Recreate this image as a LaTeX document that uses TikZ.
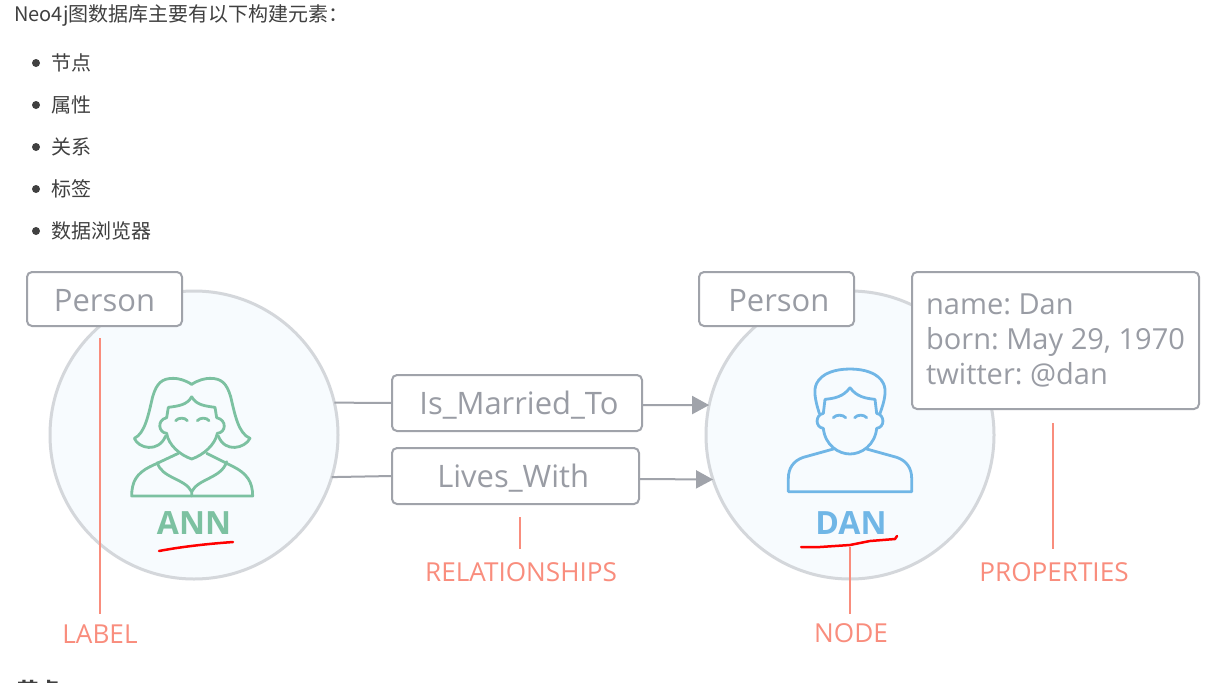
\documentclass[tikz,border=0pt]{standalone}
\usepackage{fontspec}
\setmainfont{Open Sans}
\newfontfamily\cjk{Noto Sans CJK SC}
\usetikzlibrary{arrows.meta}
\def\px{0.75pt}
\frenchspacing
\definecolor{boxgray}{HTML}{A0A3AA}
\definecolor{textgray}{HTML}{999CA4}
\definecolor{circlegray}{HTML}{D4D7DB}
\definecolor{circlefill}{HTML}{F7FBFE}
\definecolor{coral}{HTML}{F98D7D}
\definecolor{anngreen}{HTML}{7CC1A1}
\definecolor{danblue}{HTML}{70B6E6}
\definecolor{bodytext}{HTML}{404040}
\tikzset{
  person/.style = {circle, draw = circlegray, fill = circlefill, line width = 3*\px, minimum size = 288*\px, inner sep = 0pt, outer sep = 0pt},
  tagbox/.style = {draw = boxgray, fill = white, line width = 2*\px, rounded corners = 5*\px, inner sep = 0pt, outer sep = 0pt, text = textgray, text height = 24*\px, text depth = 0pt, font = \fontsize{23.2}{28}\selectfont},
  caption/.style = {text = coral, inner sep = 0pt, font = \fontsize{19.6}{24}\selectfont},
  pointer/.style = {draw = coral, line width = 1.5*\px},
  link/.style = {draw = boxgray, line width = 2*\px},
  listtext/.style = {text = bodytext, anchor = west, inner sep = 0pt, font = \cjk\fontsize{15}{18}\selectfont},
  dot/.style = {circle, fill = bodytext, inner sep = 0pt, minimum size = 8*\px},
  icon/.style = {line width = 2.8*\px, line join = round, line cap = round},
  scribble/.style = {draw = red, line width = 2.5*\px, line cap = round, line join = round},
}
\begin{document}
\begin{tikzpicture}[x = 0.75pt, y = -0.75pt]
    \useasboundingbox (0,0) rectangle (1231,682);
    \clip (0,0) rectangle (1231,682);
    \fill[white] (0,0) rectangle (1231,682);

    % Text above the diagram
    \node[listtext] (intro) at (14,16) {Neo4j图数据库主要有以下构建元素：};
    \node[dot] (dotA) at (36,63) {};
    \node[dot] (dotB) at (36,105) {};
    \node[dot] (dotC) at (36,147) {};
    \node[dot] (dotD) at (36,189) {};
    \node[dot] (dotE) at (36,231) {};
    \node[listtext] (itemA) at (51,63) {节点};
    \node[listtext] (itemB) at (51,105) {属性};
    \node[listtext] (itemC) at (51,147) {关系};
    \node[listtext] (itemD) at (51,189) {标签};
    \node[listtext] (itemE) at (51,231) {数据浏览器};
    \node[listtext, font = \cjk\bfseries\fontsize{16}{18}\selectfont] (nextheading) at (17,690) {节点};

    % Two people
    \node[person] (ann) at (194,435) {};
    \node[person] (dan) at (850,435) {};

    % Ann icon, traced in 3x units
    \begin{scope}[shift = {(100,350)}, x = 0.25pt, y = -0.25pt, draw = anngreen, icon]
        \draw (275,103) .. controls (255,90) and (235,85) .. (220,85)
            .. controls (185,85) and (170,100) .. (158,140)
            .. controls (145,195) and (135,250) .. (103,265)
            .. controls (115,295) and (175,310) .. (197,258);
        \draw (275,103) .. controls (295,90) and (315,85) .. (330,85)
            .. controls (365,85) and (380,100) .. (392,140)
            .. controls (405,195) and (415,250) .. (450,265)
            .. controls (435,295) and (375,310) .. (355,258);
        \draw (275,140) .. controls (262,165) and (235,168) .. (205,172)
            -- (200,203) .. controls (170,210) and (175,248) .. (200,250)
            .. controls (205,285) and (240,315) .. (275,327)
            .. controls (310,315) and (345,285) .. (352,250)
            .. controls (378,248) and (382,210) .. (350,203)
            -- (345,172) .. controls (315,168) and (288,165) .. (275,140);
        \draw (227,212) .. controls (235,202) and (255,202) .. (262,212);
        \draw (292,212) .. controls (300,202) and (320,202) .. (327,212);
        \draw (235,310) -- (150,350) .. controls (110,370) and (95,395) .. (95,438)
            -- (458,438) .. controls (458,395) and (440,370) .. (400,350) -- (320,310);
        \draw (172,338) .. controls (185,385) and (255,385) .. (275,425) -- (275,438);
        \draw (380,335) .. controls (365,385) and (295,385) .. (275,425);
    \end{scope}

    % Dan icon, traced in 3x units
    \begin{scope}[shift = {(760,350)}, x = 0.25pt, y = -0.25pt, draw = danblue, icon]
        \draw (178,190) .. controls (165,150) and (160,120) .. (170,100)
            .. controls (185,70) and (225,57) .. (270,57)
            .. controls (315,57) and (355,70) .. (370,100)
            .. controls (380,120) and (375,150) .. (360,190);
        \draw (270,113) .. controls (250,140) and (225,145) .. (195,148)
            -- (190,190) .. controls (165,195) and (165,232) .. (190,235)
            .. controls (195,285) and (235,312) .. (270,312)
            .. controls (305,312) and (345,285) .. (350,235)
            .. controls (375,232) and (375,195) .. (350,190)
            -- (345,148) .. controls (315,145) and (290,140) .. (270,113);
        \draw (220,203) .. controls (228,193) and (248,193) .. (257,203);
        \draw (284,203) .. controls (292,193) and (312,193) .. (320,203);
        \draw (220,297) -- (130,322) .. controls (100,332) and (85,355) .. (85,385)
            -- (85,425) -- (455,425) -- (455,385)
            .. controls (455,355) and (440,332) .. (410,322) -- (320,297);
    \end{scope}

    % Names with the hand drawn underlines
    \node[text = anngreen, inner sep = 0pt, font = \bfseries\fontsize{24}{28}\selectfont] (annname) at (194,523) {ANN};
    \node[text = danblue, inner sep = 0pt, font = \bfseries\fontsize{24}{28}\selectfont] (danname) at (851,523) {DAN};
    \draw[scribble] (159,551) .. controls (180,547) and (205,544) .. (233,542);
    \draw[scribble] (801,547) -- (820,547) -- (850,545) -- (870,541) -- (895,539) -- (897,536);

    % Boxes
    \node[tagbox, minimum width = 155*\px, minimum height = 54*\px] (annlabel) at (104.5,299) {Person};
    \node[tagbox, minimum width = 155*\px, minimum height = 54*\px] (danlabel) at (776.5,299) {\hspace*{3.5pt}Person};
    \node[tagbox, text height = 22*\px, minimum width = 250*\px, minimum height = 56*\px] (marriedbox) at (517,403) {\hspace*{3pt}Is\_Married\_To};
    \node[tagbox, text height = 22*\px, minimum width = 247*\px, minimum height = 56*\px] (livesbox) at (515.5,476) {Lives\_With\hspace*{3.5pt}};
    \node[tagbox, minimum width = 287*\px, minimum height = 137*\px, align = left, text height = , text depth = , font = \fontsize{21.75}{26.25}\selectfont] (propbox) at (1055.5,340.5) {name: Dan\\born: May 29, 1970\\twitter: @dan};

    % Relationship lines
    \draw[link] (ann.13) -- (marriedbox.west);
    \draw[link] (ann.-17) -- (livesbox.west);
    \draw[link, -{Triangle[length = 17*\px, width = 18*\px]}] ([yshift = -2*\px]marriedbox.east) -- (dan.168);
    \draw[link, -{Triangle[length = 17*\px, width = 18*\px]}] ([yshift = -3*\px]livesbox.east) -- (dan.198);

    % Captions and their pointers
    \node[caption] (labelcap) at (100,634) {LABEL};
    \node[caption] (relcap) at (521,572) {RELATIONSHIPS};
    \node[caption] (nodecap) at (851,633) {NODE};
    \node[caption] (propcap) at (1054,572) {PROPERTIES};
    \coordinate (labeltop) at (100,338);
    \coordinate (reltop) at (520,517);
    \coordinate (nodetop) at (850,547);
    \coordinate (proptop) at (1053,423);
    \draw[pointer] (labeltop) -- (100,614);
    \draw[pointer] (reltop) -- (520,549);
    \draw[pointer] (nodetop) -- (850,614);
    \draw[pointer] (proptop) -- (1053,549);
\end{tikzpicture}
\end{document}
